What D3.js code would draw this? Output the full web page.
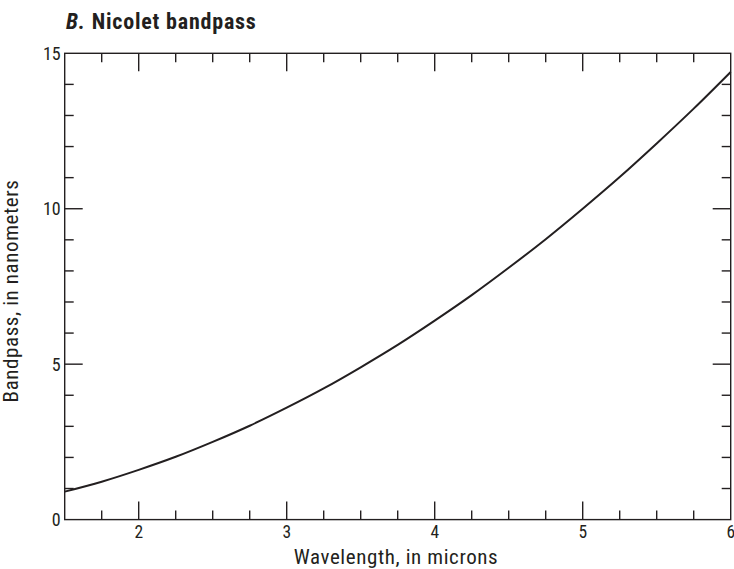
<!DOCTYPE html>
<html>
<head>
<meta charset="utf-8">
<script src="https://cdn.jsdelivr.net/npm/d3@7"></script>
<style>
  html, body { margin: 0; padding: 0; background: #fff; }
  svg { display: block; }
  text { font-family: "Liberation Sans Narrow", "Roboto Condensed", "Arial Narrow", "Liberation Sans", sans-serif; fill: #231f20; }
</style>
</head>
<body>
<svg id="chart" width="734" height="569"></svg>
<script>
const wavelengths = [1.5, 1.75, 2.0, 2.25, 2.5, 2.75, 3.0, 3.25, 3.5, 3.75, 4.0, 4.25, 4.5, 4.75, 5.0, 5.25, 5.5, 5.75, 6.0];
const bandpass    = [0.90, 1.22, 1.60, 2.02, 2.50, 3.02, 3.60, 4.22, 4.90, 5.62, 6.40, 7.22, 8.10, 9.02, 10.00, 11.02, 12.10, 13.22, 14.40];
const xMajorTicks = [2, 3, 4, 5, 6];
const xMinorTicks = [1.75, 2.25, 2.5, 2.75, 3.25, 3.5, 3.75, 4.25, 4.5, 4.75, 5.25, 5.5, 5.75];
const yMajorTicks = [0, 5, 10, 15];
const yMinorTicks = [1, 2, 3, 4, 6, 7, 8, 9, 11, 12, 13, 14];
const titleBold = "B.";
const titleRest = " Nicolet bandpass";
const xTitle = "Wavelength, in microns";
const yTitle = "Bandpass, in nanometers";

const svg = d3.select("#chart");
const L = 64.7, R = 730.7, T = 53.3, B = 519.6;
const x = d3.scaleLinear().domain([1.5, 6]).range([L, R]);
const y = d3.scaleLinear().domain([0, 15]).range([B, T]);
const ink = "#231f20";
const axisW = 1.4;
const majLen = 18, minLen = 9;

// curve
const pts = wavelengths.map((w, i) => [w, bandpass[i]]);
svg.append("path")
  .datum(pts)
  .attr("fill", "none")
  .attr("stroke", ink)
  .attr("stroke-width", 2)
  .attr("d", d3.line().x(d => x(d[0])).y(d => y(d[1])).curve(d3.curveNatural));

const g = svg.append("g").attr("stroke", ink).attr("stroke-width", axisW);
// frame
g.append("rect").attr("x", L).attr("y", T).attr("width", R - L).attr("height", B - T).attr("fill", "none");

function xTicks(vals, len) {
  vals.forEach(v => {
    g.append("line").attr("x1", x(v)).attr("x2", x(v)).attr("y1", B).attr("y2", B - len);
    g.append("line").attr("x1", x(v)).attr("x2", x(v)).attr("y1", T).attr("y2", T + len);
  });
}
function yTicks(vals, len) {
  vals.forEach(v => {
    g.append("line").attr("y1", y(v)).attr("y2", y(v)).attr("x1", L).attr("x2", L + len);
    g.append("line").attr("y1", y(v)).attr("y2", y(v)).attr("x1", R).attr("x2", R - len);
  });
}
xTicks(xMajorTicks.filter(v => v < 6), majLen);
xTicks(xMinorTicks, minLen);
yTicks(yMajorTicks.filter(v => v > 0 && v < 15), majLen);
yTicks(yMinorTicks, minLen);

// tick labels
svg.append("g").selectAll("text").data(xMajorTicks).join("text")
  .attr("x", d => x(d)).attr("y", B + 18)
  .attr("text-anchor", "middle").attr("font-size", 17.5)
  .text(d => d);
svg.append("g").selectAll("text").data(yMajorTicks).join("text")
  .attr("x", L - 4).attr("y", d => y(d) + 6.5)
  .attr("text-anchor", "end").attr("font-size", 18)
  .text(d => d);

// axis titles
svg.append("text").attr("x", 396).attr("y", 564)
  .attr("text-anchor", "middle").attr("font-size", 21).attr("letter-spacing", 0.6).text(xTitle);
svg.append("text").attr("transform", `translate(18,291) rotate(-90)`)
  .attr("text-anchor", "middle").attr("font-size", 21).attr("letter-spacing", 0.6).text(yTitle);

// title
const t = svg.append("text").attr("x", 66).attr("y", 29).attr("font-size", 22).attr("font-weight", "bold").attr("letter-spacing", 0.8);
t.append("tspan").attr("font-style", "italic").text(titleBold);
t.append("tspan").text(titleRest);
</script>
</body>
</html>
